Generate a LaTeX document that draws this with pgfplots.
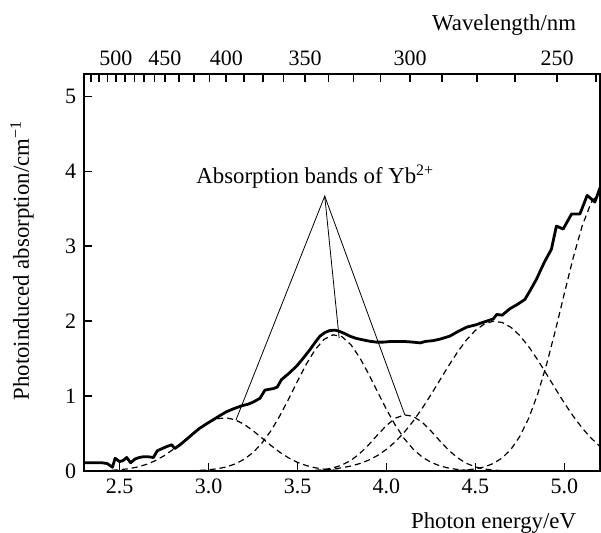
\documentclass[border=0pt]{standalone}
\usepackage{fontspec}
\setmainfont{Liberation Serif}
\usepackage{pgfplots}
\pgfplotsset{compat=1.18}
\usetikzlibrary{calc}

% measured spectrum (solid)
\pgfplotstableread{
E a
2.30 0.11
2.32 0.11
2.36 0.11
2.40 0.11
2.43 0.10
2.46 0.05
2.475 0.17
2.50 0.125
2.52 0.14
2.54 0.18
2.562 0.11
2.587 0.16
2.61 0.18
2.633 0.19
2.66 0.19
2.69 0.18
2.712 0.27
2.74 0.30
2.764 0.325
2.793 0.35
2.81 0.30
2.84 0.35
2.88 0.43
2.914 0.50
2.95 0.57
2.989 0.63
3.03 0.69
3.064 0.74
3.10 0.79
3.14 0.83
3.186 0.87
3.22 0.89
3.251 0.92
3.289 0.97
3.317 1.08
3.364 1.10
3.386 1.12
3.41 1.22
3.45 1.30
3.495 1.40
3.53 1.50
3.57 1.62
3.60 1.72
3.626 1.80
3.655 1.85
3.682 1.875
3.71 1.88
3.729 1.87
3.76 1.84
3.794 1.80
3.83 1.77
3.869 1.75
3.91 1.73
3.944 1.72
3.98 1.72
4.03 1.73
4.094 1.73
4.15 1.72
4.19 1.71
4.22 1.73
4.262 1.74
4.30 1.76
4.356 1.80
4.40 1.86
4.45 1.92
4.50 1.95
4.55 1.99
4.60 2.03
4.62 2.09
4.65 2.08
4.693 2.165
4.74 2.23
4.778 2.29
4.81 2.42
4.843 2.56
4.87 2.70
4.89 2.80
4.927 2.96
4.955 3.27
4.993 3.23
5.04 3.43
5.087 3.43
5.128 3.68
5.171 3.59
5.20 3.78
}\spec

% fitted bands (dashed)
\pgfplotstableread{
E a
2.40 0.004
2.45 0.0085
2.50 0.0165
2.55 0.030
2.60 0.053
2.65 0.0875
2.70 0.137
2.75 0.203
2.80 0.286
2.85 0.381
2.90 0.480
2.95 0.574
3.00 0.650
3.05 0.698
3.10 0.709
3.15 0.683
3.20 0.623
3.25 0.538
3.30 0.441
3.35 0.342
3.40 0.251
3.45 0.175
3.50 0.115
3.55 0.072
3.60 0.0426
3.65 0.024
3.70 0.0127
3.75 0.0064
3.80 0.003
}\bandA

\pgfplotstableread{
E a
2.95 0.0078
3.00 0.0155
3.05 0.0297
3.10 0.054
3.15 0.094
3.20 0.156
3.25 0.246
3.30 0.372
3.35 0.535
3.40 0.734
3.45 0.961
3.50 1.200
3.55 1.429
3.60 1.623
3.65 1.759
3.70 1.818
3.75 1.793
3.80 1.686
3.85 1.512
3.90 1.294
3.95 1.056
4.00 0.822
4.05 0.610
4.10 0.432
4.15 0.292
4.20 0.188
4.25 0.116
4.30 0.068
4.35 0.038
4.40 0.020
4.45 0.010
4.50 0.005
}\bandB

\pgfplotstableread{
E a
3.65 0.019
3.70 0.041
3.75 0.080
3.80 0.142
3.85 0.233
3.90 0.350
3.95 0.482
4.00 0.608
4.05 0.705
4.10 0.749
4.15 0.730
4.20 0.652
4.25 0.534
4.30 0.402
4.35 0.277
4.40 0.175
4.45 0.101
4.50 0.054
4.55 0.026
4.60 0.012
4.65 0.005
}\bandC

\pgfplotstableread{
E a
3.60 0.010
3.65 0.017
3.70 0.027
3.75 0.043
3.80 0.066
3.85 0.099
3.90 0.145
3.95 0.207
4.00 0.289
4.05 0.391
4.10 0.517
4.15 0.665
4.20 0.834
4.25 1.019
4.30 1.213
4.35 1.407
4.40 1.590
4.45 1.751
4.50 1.878
4.55 1.963
4.60 1.999
4.65 1.983
4.70 1.917
4.75 1.806
4.80 1.658
4.85 1.482
4.90 1.291
4.95 1.096
5.00 0.906
5.05 0.730
5.10 0.573
5.15 0.439
5.20 0.327
}\bandD

\pgfplotstableread{
E a
4.40 0.0065
4.45 0.0138
4.50 0.028
4.55 0.054
4.60 0.099
4.65 0.174
4.70 0.291
4.75 0.465
4.80 0.708
4.85 1.028
4.90 1.425
4.95 1.883
5.00 2.373
5.05 2.853
5.10 3.273
5.15 3.581
5.20 3.736
}\bandE

\begin{document}
\fontsize{11.4}{13}\selectfont
\begin{tikzpicture}
\pgfplotsset{
  frame/.style={
    width=258pt, height=198.5pt, scale only axis,
    xmin=2.3, xmax=5.2, ymin=0, ymax=5.3,
    tick align=inside,
    major tick length=4pt, minor tick length=4pt,
    axis line style={line width=0.9pt},
    every tick/.style={line width=0.8pt, black},
    tick label style={font=\fontsize{11}{12}\selectfont},
  },
}
\begin{axis}[
  frame,
  xtick={2.5,3.0,3.5,4.0,4.5,5.0},
  xticklabels={\mbox{2.5},\mbox{3.0},\mbox{3.5},\mbox{4.0},\mbox{4.5},\mbox{5.0}},
  ytick={0,1,2,3,4,5},
  yticklabels={\mbox{0},\mbox{1},\mbox{2},\mbox{3},\mbox{4},\mbox{5}},
  xtick pos=bottom, ytick pos=left,
  xlabel={Photon energy/eV},
  xlabel style={at={(axis description cs:0.969,-0.131)}, anchor=east},
  ylabel={Photoinduced absorption/cm\textsuperscript{−1}},
  ylabel style={at={(axis description cs:-0.12,0.53)}, anchor=center},
]
\coordinate (sw) at (rel axis cs:0,0);
\coordinate (ne) at (rel axis cs:1,1);
\addplot[black, line width=0.6pt, dash pattern=on 3pt off 2pt] table[x=E, y=a] {\bandA};
\addplot[black, line width=0.6pt, dash pattern=on 3pt off 2pt] table[x=E, y=a] {\bandB};
\addplot[black, line width=0.6pt, dash pattern=on 3pt off 2pt] table[x=E, y=a] {\bandC};
\addplot[black, line width=0.6pt, dash pattern=on 3pt off 2pt] table[x=E, y=a] {\bandD};
\addplot[black, line width=0.6pt, dash pattern=on 3pt off 2pt] table[x=E, y=a] {\bandE};
\addplot[black, line width=1.4pt, line join=round] table[x=E, y=a] {\spec};
\draw[line width=0.4pt] (3.154,0.68) -- (3.653,3.67) -- (3.734,1.776);
\draw[line width=0.4pt] (3.653,3.67) -- (4.103,0.75);
\node at (3.60,3.93) {Absorption bands of Yb\textsuperscript{2+}};
\end{axis}
\begin{axis}[
  frame,
  axis x line*=top, axis y line=none,
  xtick={2.4797,2.7552,3.0996,3.5424,4.1328,4.9594},
  xticklabels={\mbox{500},\mbox{450},\mbox{400},\mbox{350},\mbox{300},\mbox{250}},
  minor xtick={2.3393,2.3843,2.4311,2.5303,2.5830,2.6380,2.6953,2.8339,2.9173,3.0057,3.1996,3.3062,3.4202,3.6736,3.8149,3.9675,4.3125,4.5085,4.7232,5.178},
  xlabel={Wavelength/nm},
  xlabel style={at={(axis description cs:0.969,1.123)}, anchor=east},
]
\end{axis}
\pgfresetboundingbox
\path[use as bounding box] ($(sw)+(-42pt,-31pt)$) rectangle ($(ne)+(0.5pt,37pt)$);
\end{tikzpicture}
\end{document}
